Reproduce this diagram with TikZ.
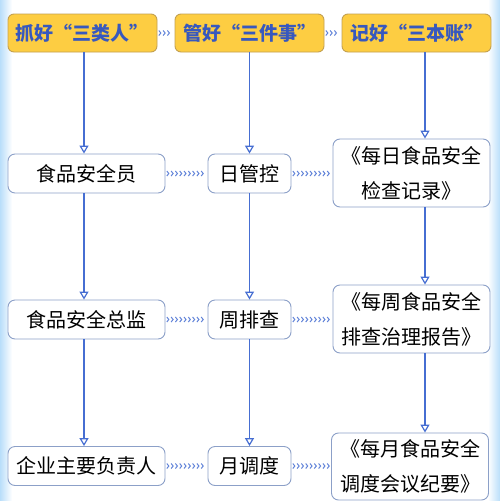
\documentclass[tikz,border=0pt]{standalone}
\usepackage{fontspec}
\setmainfont{Noto Sans CJK SC}
\usetikzlibrary{arrows.meta,decorations.markings}

\definecolor{linie}{RGB}{70,110,210}
\definecolor{gelb}{RGB}{253,205,66}
\definecolor{gelbrand}{RGB}{195,160,80}
\definecolor{rahmen}{RGB}{140,160,200}
\definecolor{titel}{RGB}{55,88,190}
\definecolor{rand}{RGB}{185,222,250}

\tikzset{
  kopf/.style={draw=gelbrand, line width=0.9pt, fill=gelb, rounded corners=6pt,
    text=titel, font=\fontsize{19}{19}\selectfont\bfseries, minimum width=149pt,
    minimum height=38pt, inner sep=0pt},
  feld/.style={draw=rahmen, line width=0.9pt, fill=white, rounded corners=7pt,
    font=\fontsize{20}{20}\selectfont, minimum height=39pt, inner sep=0pt},
  buch/.style={draw=rahmen, line width=0.9pt, fill=white, rounded corners=7pt,
    align=center, font=\fontsize{20}{35}\selectfont, minimum width=157pt,
    minimum height=68pt, inner sep=0pt},
  pfeil/.style={draw=linie, line width=1.5pt,
    -{Triangle[open, fill=white, length=8pt, width=9pt, line width=1.2pt]}},
  kette/.style={draw=none, postaction=decorate, decoration={markings,
    mark=between positions 4pt and -1pt step 4.3pt with
    {\arrow[linie!85, line width=1pt]{Straight Barb[length=2pt, width=5pt]}}}},
}

\begin{document}
\begin{tikzpicture}[x=1pt, y=-1pt]
  \useasboundingbox (0,0) rectangle (500,501);
  \fill[white] (0,0) rectangle (500,501);
  \shade[left color=rand, right color=white] (0,0) rectangle (12,501);
  \shade[left color=white, right color=rand] (488,0) rectangle (500,501);

  % Kopfzeile
  \node[kopf] (k1) at (82.5,33) {抓好“三类人”};
  \node[kopf] (k2) at (249.5,33) {管好“三件事”};
  \node[kopf] (k3) at (416.5,33) {记好“三本账”};

  % Spalte 1
  \node[feld, minimum width=157pt] (p1) at (86.5,173.5) {食品安全员};
  \node[feld, minimum width=157pt] (p2) at (86.5,319.5) {食品安全总监};
  \node[feld, minimum width=157pt] (p3) at (86.5,466) {企业主要负责人};

  % Spalte 2
  \node[feld, minimum width=83pt] (t1) at (249.5,173.5) {日管控};
  \node[feld, minimum width=83pt] (t2) at (249.5,319.5) {周排查};
  \node[feld, minimum width=83pt] (t3) at (249.5,466) {月调度};

  % Spalte 3
  \node[buch] (b1) at (411.5,173) {《每日食品安全\\检查记录》};
  \node[buch] (b2) at (411.5,319) {《每周食品安全\\排查治理报告》};
  \node[buch, minimum height=67pt] (b3) at (410,466.5) {《每月食品安全\\调度会议纪要》};

  % senkrechte Pfeile
  \draw[pfeil] ([xshift=1.5pt]k1.south) -- ([xshift=1.5pt]k1.south |- p1.north);
  \draw[pfeil] ([xshift=1.5pt]k1.south |- p1.south) -- ([xshift=1.5pt]k1.south |- p2.north);
  \draw[pfeil] ([xshift=1.5pt]k1.south |- p2.south) -- ([xshift=1.5pt]k1.south |- p3.north);

  \draw[pfeil] (k2.south) -- (t1.north);
  \draw[pfeil] (t1.south) -- (t2.north);
  \draw[pfeil] (t2.south) -- (t3.north);

  \draw[pfeil] ([xshift=8.5pt]k3.south) -- ([xshift=8.5pt]k3.south |- b1.north);
  \draw[pfeil] ([xshift=8.5pt]k3.south |- b1.south) -- ([xshift=8.5pt]k3.south |- b2.north);
  \draw[pfeil] ([xshift=8.5pt]k3.south |- b2.south) -- ([xshift=8.5pt]k3.south |- b3.north);

  % waagrechte Ketten
  \draw[kette] (k1.east) -- (k2.west);
  \draw[kette] (k2.east) -- (k3.west);
  \draw[kette] (p1.east) -- (t1.west);
  \draw[kette] (p2.east) -- (t2.west);
  \draw[kette] (p3.east) -- (t3.west);
  \draw[kette] (t1.east) -- (b1.west |- t1.east);
  \draw[kette] (t2.east) -- (b2.west |- t2.east);
  \draw[kette] (t3.east) -- (b3.west |- t3.east);
\end{tikzpicture}
\end{document}
